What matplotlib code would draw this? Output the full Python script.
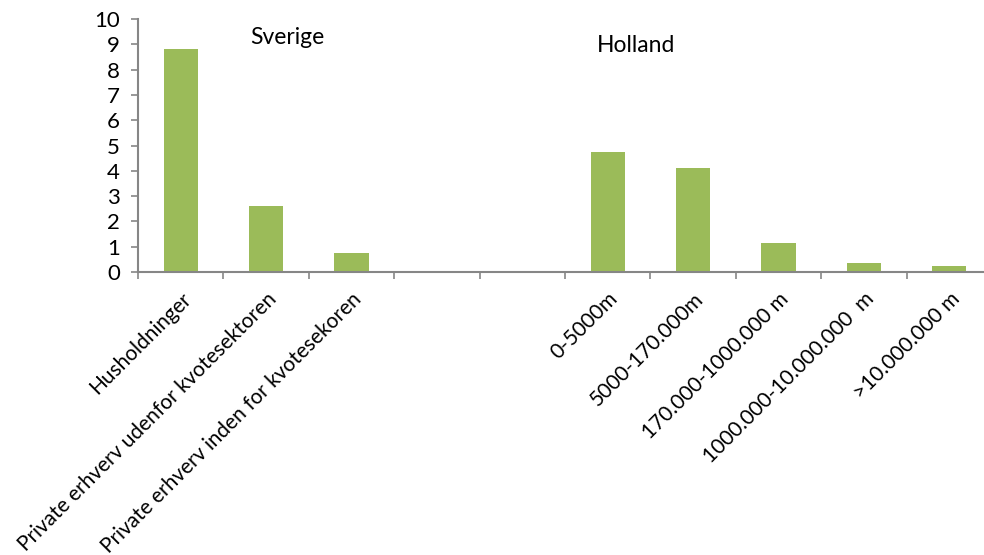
import matplotlib
matplotlib.use("Agg")
import matplotlib.pyplot as plt
import numpy as np

categories = ["Husholdninger", "Private erhverv udenfor kvotesektoren",
              "Private erhverv inden for kvotesekoren", "", "",
              "0-5000m", "5000-170.000m", "170.000-1000.000 m",
              "1000.000-10.000.000  m", ">10.000.000 m"]
values = [8.8, 2.62, 0.74, np.nan, np.nan, 4.74, 4.1, 1.13, 0.36, 0.24]
group_labels = ["Sverige", "Holland"]
yticks = list(range(0, 11))

plt.rcParams['font.family'] = ['Lato', 'DejaVu Sans']

fig = plt.figure(figsize=(9.84, 5.55), dpi=100)
W, H = 984, 555
left, right = 138, 992
bottom, top = 272, 19
ax = fig.add_axes([left / W, 1 - bottom / H, (right - left) / W, (bottom - top) / H])

x = np.arange(len(categories))
ax.bar(x, values, width=0.40, color="#9BBB59")
ax.set_xlim(-0.5, len(categories) - 0.5)
ax.set_ylim(0, 10)
ax.set_yticks(yticks)
ax.set_yticklabels([str(t) for t in yticks], fontsize=16)

ax.set_xticks(np.arange(-0.5, len(categories), 1.0), minor=False)
ax.set_xticklabels([])
ax.set_xticks(x, minor=True)
ax.set_xticklabels(categories, minor=True, rotation=45, ha='right', va='top',
                   rotation_mode='anchor', fontsize=15)
ax.tick_params(axis='x', which='minor', length=0, pad=12)
ax.tick_params(axis='x', which='major', length=5, color='#868686', width=1.2)
ax.tick_params(axis='y', length=5, color='#868686', width=1.2, pad=8)

for s in ['top', 'right']:
    ax.spines[s].set_visible(False)
for s in ['left', 'bottom']:
    ax.spines[s].set_color('#868686')
    ax.spines[s].set_linewidth(1.5)

ax.text(1.245, 9.25, group_labels[0], fontsize=16.5, ha='center', va='center')
ax.text(5.33, 8.95, group_labels[1], fontsize=16.5, ha='center', va='center')

fig.savefig("out.png", dpi=100)
